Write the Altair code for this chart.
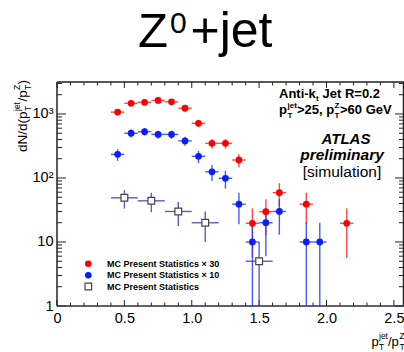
import altair as alt
import pandas as pd

# ---------------- data ----------------
red_x = [0.45, 0.55, 0.65, 0.75, 0.85, 0.95, 1.05, 1.15, 1.25, 1.35, 1.45, 1.55, 1.65, 1.85, 2.15]
red_y = [1070, 1470, 1520, 1630, 1550, 1230, 716, 348, 348, 191, 19.6, 29.7, 59, 39, 19.6]
red_err = [103, 121, 123, 128, 124, 111, 85, 59, 59, 44, 14, 17, 24, 20, 14]

blue_x = [0.45, 0.55, 0.65, 0.75, 0.85, 0.95, 1.05, 1.15, 1.25, 1.35, 1.45, 1.55, 1.65, 1.85, 1.95]
blue_y = [234, 500, 530, 480, 480, 380, 218, 125, 99, 39, 10, 20, 30, 10, 10]
blue_err = [48, 71, 73, 69, 69, 62, 47, 35, 31, 20, 10, 14, 17, 10, 10]

black_x = [0.5, 0.7, 0.9, 1.1, 1.5]
black_y = [49, 44, 30, 20, 5]
black_err = [15.7, 14.8, 12.2, 10, 5]

red_halfwidth = 0.05
blue_halfwidth = 0.05
black_halfwidth = 0.1

x_major = [0, 0.5, 1, 1.5, 2, 2.5]
x_minor = [0.1, 0.2, 0.3, 0.4, 0.6, 0.7, 0.8, 0.9, 1.1, 1.2, 1.3, 1.4, 1.6, 1.7, 1.8, 1.9, 2.1, 2.2, 2.3, 2.4]
y_major = [1, 10, 100, 1000]
y_minor = [2, 3, 4, 5, 6, 7, 8, 9, 20, 30, 40, 50, 60, 70, 80, 90,
           200, 300, 400, 500, 600, 700, 800, 900, 2000, 3000]

legend_labels = ["MC Present Statistics \u00d7 30", "MC Present Statistics \u00d7 10", "MC Present Statistics"]

FONT = "Liberation Sans"
W, H = 347, 224
XDOM = [0, 2.575]
YDOM = [1, 3162]


def frame(xs, ys, es, hw):
    df = pd.DataFrame({"x": xs, "y": ys, "e": es})
    df["lo"] = (df["y"] - df["e"]).clip(lower=0.3)
    df["hi"] = df["y"] + df["e"]
    df["xlo"] = df["x"] - hw
    df["xhi"] = df["x"] + hw
    return df


red = frame(red_x, red_y, red_err, red_halfwidth)
blue = frame(blue_x, blue_y, blue_err, blue_halfwidth)
black = frame(black_x, black_y, black_err, black_halfwidth)

xs = alt.Scale(domain=XDOM, nice=False, zero=False)
ys = alt.Scale(type="log", domain=YDOM, nice=False)

x_axis = alt.Axis(values=x_major, labelFont=FONT, labelFontSize=14.5, labelColor="black",
                  tickSize=0, domain=False, grid=False, labelPadding=5, labelFlush=False,
                  labelOverlap=False, title=None, ticks=False,
                  labelExpr="datum.value == 0 ? '0' : datum.label")
y_axis = alt.Axis(values=y_major, labelFont=FONT, labelFontSize=14.5, labelColor="black",
                  tickSize=0, domain=False, grid=False, labelPadding=4, labelFlush=False,
                  labelOverlap=False, title=None, ticks=False,
                  labelExpr="datum.value == 1000 ? '10\u00b3' : datum.value == 100 ? '10\u00b2' : datum.value == 10 ? '10' : '1'")


def X(f):
    return alt.X(f, scale=xs, axis=x_axis)


def Y(f):
    return alt.Y(f, scale=ys, axis=y_axis)


def errbars(df, color, width=1.4, opacity=0.85):
    v = alt.Chart(df).mark_rule(color=color, strokeWidth=width, opacity=opacity, clip=True).encode(
        x=X("x:Q"), y=Y("lo:Q"), y2="hi:Q")
    h = alt.Chart(df).mark_rule(color=color, strokeWidth=width, opacity=opacity, clip=True).encode(
        x=X("xlo:Q"), x2="xhi:Q", y=Y("y:Q"))
    return v + h


black_pts = alt.Chart(black).mark_point(shape="square", filled=True, fill="white", stroke="#444",
                                        strokeWidth=1.2, size=46, opacity=1, clip=True).encode(
    x=X("x:Q"), y=Y("y:Q"))
red_pts = alt.Chart(red).mark_circle(color="#ff0000", size=46, opacity=1, clip=True).encode(
    x=X("x:Q"), y=Y("y:Q"))
blue_pts = alt.Chart(blue).mark_circle(color="#0a1eff", size=46, opacity=1, clip=True).encode(
    x=X("x:Q"), y=Y("y:Q"))

# inward ticks
TK = "#222"


def xticks(vals, length):
    d = pd.DataFrame({"v": vals})
    b = alt.Chart(d).mark_rule(color=TK, strokeWidth=1).encode(
        x=X("v:Q"), y=alt.value(H), y2=alt.value(H - length))
    t = alt.Chart(d).mark_rule(color=TK, strokeWidth=1).encode(
        x=X("v:Q"), y=alt.value(0), y2=alt.value(length))
    return b + t


def yticks(vals, length):
    d = pd.DataFrame({"v": vals})
    l = alt.Chart(d).mark_rule(color=TK, strokeWidth=1).encode(
        y=Y("v:Q"), x=alt.value(0), x2=alt.value(length))
    r = alt.Chart(d).mark_rule(color=TK, strokeWidth=1).encode(
        y=Y("v:Q"), x=alt.value(W), x2=alt.value(W - length))
    return l + r


_one = pd.DataFrame({"a": [0]})


def txt(s, x, y, size, weight="normal", style="normal", angle=0, align="left", baseline="alphabetic"):
    kw = dict(text=s, font=FONT, fontSize=size, fontWeight=weight, fontStyle=style,
              align=align, baseline=baseline, color="black")
    if angle:
        kw["angle"] = angle
    return alt.Chart(_one).mark_text(**kw).encode(x=alt.value(x), y=alt.value(y))


def hline(y, x1, x2, color="#222", w=1.5):
    return alt.Chart(_one).mark_rule(color=color, strokeWidth=w).encode(
        x=alt.value(x1), x2=alt.value(x2), y=alt.value(y))


def vline(x, y1, y2, color="#222", w=1.5):
    return alt.Chart(_one).mark_rule(color=color, strokeWidth=w).encode(
        x=alt.value(x), y=alt.value(y1), y2=alt.value(y2))


frame_lines = [hline(0, 0, W), hline(H, 0, W, color="#2a2a50"), vline(0, 0, H), vline(W - 0.5, 0, H)]

texts = [
    # title Z0+jet
    txt("Z", 81, -35, 49),
    txt("0", 113, -49, 30),
    txt("+jet", 133.5, -35, 50),
    # y-axis title (rotated)
    txt("dN/d(p", -30, 70, 13.5, angle=270),
    txt("T", -26, 29, 8.5, angle=270),
    txt("jet", -37, 29, 8.5, angle=270),
    txt("/p", -30, 19.5, 13.5, angle=270),
    txt("T", -26, 8, 8.5, angle=270),
    txt("Z", -37, 8, 8.5, angle=270),
    txt(")", -30, 2.5, 13.5, angle=270),
    # x-axis title (cut at right edge as in the picture)
    txt("p", 314.5, 264, 13),
    txt("T", 322, 268, 8.5),
    txt("jet", 322, 257, 8.5),
    txt("/p", 331, 264, 13),
    txt("T", 342.5, 268, 8.5),
    txt("Z", 342.5, 257, 8.5),
    # annotation
    txt("Anti-k", 222, 16, 13, weight="bold"),
    txt("t", 259, 19, 8, weight="bold"),
    txt("Jet R=0.2", 265.5, 16, 13, weight="bold"),
    txt("p", 222, 31.5, 13, weight="bold"),
    txt("T", 230.5, 35.5, 8, weight="bold"),
    txt("jet", 230.5, 25.5, 8, weight="bold"),
    txt(">25, p", 240, 31.5, 13, weight="bold"),
    txt("T", 277.5, 35.5, 8, weight="bold"),
    txt("Z", 277.5, 25.5, 8, weight="bold"),
    txt(">60 GeV", 283, 31.5, 13, weight="bold"),
    txt("ATLAS", 289, 62, 15, weight="bold", style="italic", align="center"),
    txt("preliminary", 285, 78, 15.5, weight="bold", style="italic", align="center"),
    txt("[simulation]", 285, 94.5, 15.5, align="center"),
    # legend text
    txt(legend_labels[0], 50, 181.7, 9, weight="bold", baseline="middle"),
    txt(legend_labels[1], 50, 193.3, 9, weight="bold", baseline="middle"),
    txt(legend_labels[2], 50, 204.5, 9, weight="bold", baseline="middle"),
]

leg_red = alt.Chart(_one).mark_circle(color="#ff0000", size=44, opacity=1).encode(
    x=alt.value(31.3), y=alt.value(181.7))
leg_blue = alt.Chart(_one).mark_circle(color="#0a1eff", size=44, opacity=1).encode(
    x=alt.value(31.3), y=alt.value(193.3))
leg_black = alt.Chart(_one).mark_point(shape="square", filled=True, fill="white", stroke="#444",
                                       strokeWidth=1.2, size=44, opacity=1).encode(
    x=alt.value(31.3), y=alt.value(204.5))

layers = [
    xticks(x_major, 6), xticks(x_minor, 3.5),
    yticks(y_major, 9), yticks(y_minor, 5),
    errbars(black, "#4a4ac0", width=1.4, opacity=0.9),
    errbars(red, "#ff2a2a"),
    errbars(blue, "#2a3cff"),
    black_pts, red_pts, blue_pts,
    leg_red, leg_blue, leg_black,
] + frame_lines + texts

chart = alt.layer(*layers).properties(
    width=W, height=H,
    padding={"left": 57, "top": 82, "right": 0, "bottom": 46},
    autosize=alt.AutoSizeParams(type="none"),
    background="white",
).configure_view(stroke=None)

chart.save("out.html", embed_options={"renderer": "svg", "actions": False})
